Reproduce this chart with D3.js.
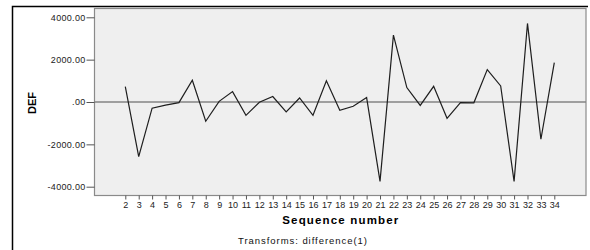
<!DOCTYPE html>
<html><head><meta charset="utf-8">
<script src="https://cdn.jsdelivr.net/npm/d3@7"></script>
<style>body{margin:0;background:#fff}svg{display:block}text{font-family:Arial,"Liberation Sans",sans-serif}</style>
</head><body><svg id="c" width="590" height="250"></svg>
<script>
const sequence = [2,3,4,5,6,7,8,9,10,11,12,13,14,15,16,17,18,19,20,21,22,23,24,25,26,27,28,29,30,31,32,33,34];
const defValues = [730,-2580,-290,-150,-30,1030,-910,30,490,-630,-10,260,-470,190,-630,1000,-390,-200,210,-3750,3160,680,-160,740,-770,-30,-40,1530,760,-3750,3710,-1760,1860];
const yTickValues = [4000,2000,0,-2000,-4000];
const yTickLabels = ["4000.00","2000.00",".00","-2000.00","-4000.00"];
const xTitle = "Sequence number";
const yTitle = "DEF";
const footnote = "Transforms: difference(1)";

const svg = d3.select("#c");
const L = 94.5, R = 586, T = 8.5, B = 195.5;
const x = d3.scaleLinear().domain([2,34]).range([125.3,554.3]);
const y = d3.scaleLinear().domain([-4000,4000]).range([186.7,17.3]);

// outer frame
svg.append("path").attr("d","M12.5,252V6.5H588").attr("fill","none").attr("stroke","#000").attr("stroke-width",1.5);

// plot area
svg.append("rect").attr("x",L).attr("y",T).attr("width",R-L).attr("height",B-T)
  .attr("fill","#efefef").attr("stroke","#8a8a8a").attr("stroke-width",1.2);

// zero reference line
svg.append("line").attr("x1",L).attr("x2",R).attr("y1",y(0)).attr("y2",y(0))
  .attr("stroke","#858585").attr("stroke-width",1.5);

// y axis
const yAxis = d3.axisLeft(y).tickValues(yTickValues).tickSize(8).tickPadding(1)
  .tickFormat((d,i)=>yTickLabels[i]);
const ga = svg.append("g").attr("transform",`translate(${L},0)`).call(yAxis);
ga.select(".domain").remove();
ga.selectAll("line").attr("stroke","#555");
ga.selectAll("text").attr("font-size",9).attr("letter-spacing",0.3).attr("fill","#222").style("font-family","Arial,'Liberation Sans',sans-serif");

// x axis
const xAxis = d3.axisBottom(x).tickValues(sequence).tickSize(4).tickPadding(2).tickFormat(d3.format("d"));
const gx = svg.append("g").attr("transform",`translate(0,${B})`).call(xAxis);
gx.select(".domain").remove();
gx.selectAll("line").attr("stroke","#555");
gx.selectAll("text").attr("font-size",9).attr("fill","#222").style("font-family","Arial,'Liberation Sans',sans-serif");

// series line
const line = d3.line().x((d,i)=>x(sequence[i])).y(d=>y(d));
svg.append("path").datum(defValues).attr("d",line).attr("fill","none")
  .attr("stroke","#1e1e1e").attr("stroke-width",1.2).attr("stroke-linejoin","miter");

// titles
svg.append("text").attr("x",(L+R)/2).attr("y",224).attr("text-anchor","middle")
  .attr("font-size",11.5).attr("font-weight","bold").attr("textLength",116).attr("lengthAdjust","spacing")
  .attr("fill","#000").text(xTitle);
svg.append("text").attr("transform","translate(36,103) rotate(-90)").attr("text-anchor","middle")
  .attr("font-size",11).attr("font-weight","bold").attr("fill","#000").text(yTitle);
svg.append("text").attr("x",302.5).attr("y",243.5).attr("text-anchor","middle")
  .attr("font-size",9.5).attr("textLength",129).attr("lengthAdjust","spacing")
  .attr("fill","#111").text(footnote);
</script></body></html>
